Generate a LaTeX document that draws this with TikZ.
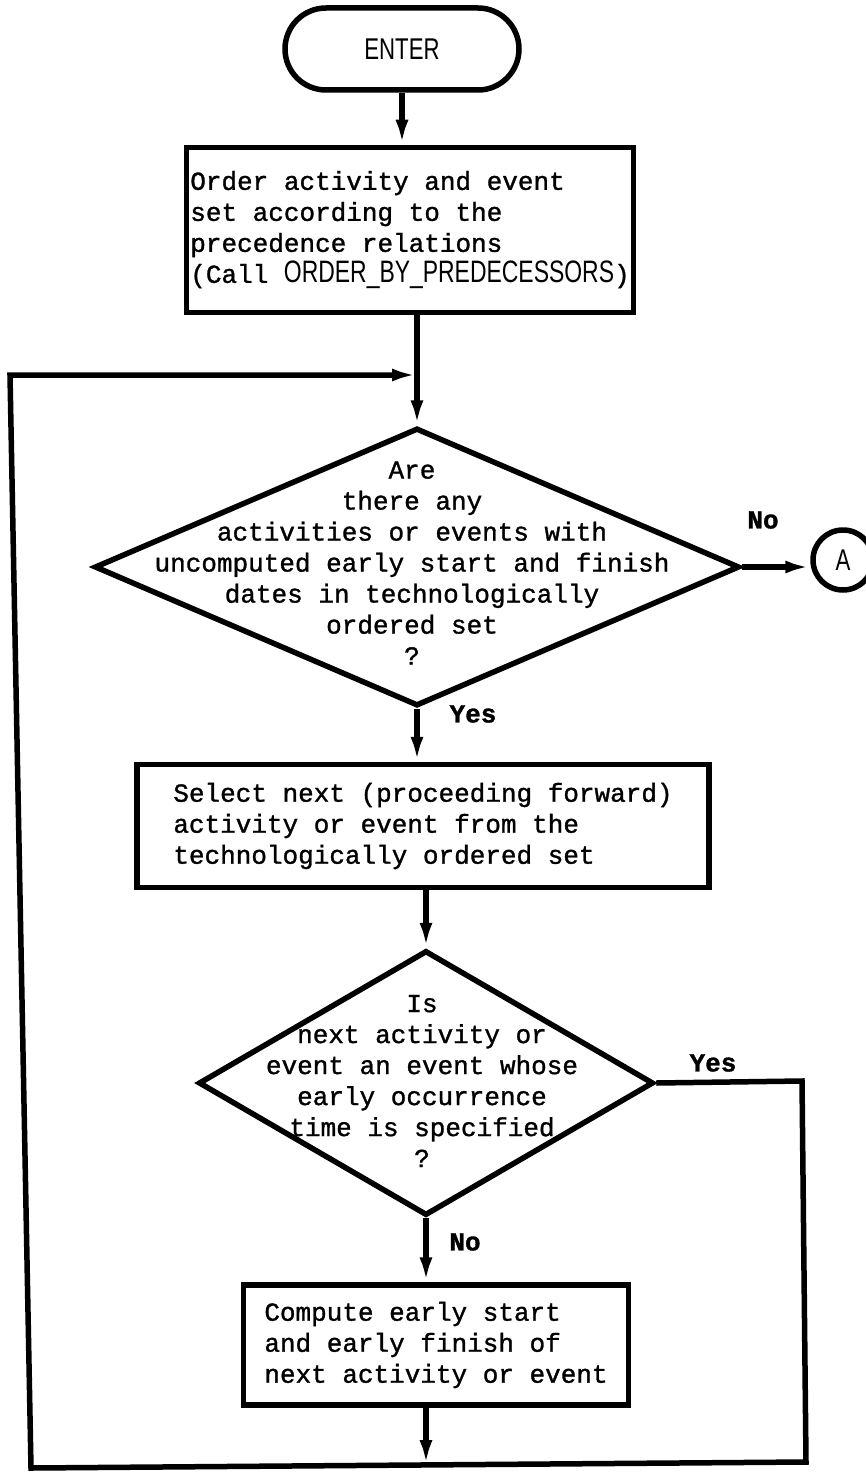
\documentclass[tikz,border=0pt]{standalone}
\usepackage{fontspec}
\usetikzlibrary{shapes.geometric,arrows.meta}
\newfontfamily\cour[FakeBold=1.2]{Liberation Mono}
\newfontfamily\narrowsf[FakeStretch=0.74]{Liberation Sans}
\begin{document}
\begin{tikzpicture}[x=1pt,y=-1pt,
  ln/.style={line width=5.5pt},
  arr/.style={ln,-{Latex[length=25pt,width=13pt]}},
  txt/.style={font=\cour\fontsize{26}{31}\selectfont},
  lbl/.style={font=\cour\bfseries\fontsize{26}{31}\selectfont, inner sep=0pt},
  boxst/.style={draw,ln,rectangle,align=left,txt,inner sep=0pt},
  dia/.style={draw,ln,diamond,inner sep=0pt},
  dtext/.style={txt,align=center,inner sep=0pt},
  term/.style={draw,ln,rectangle,rounded corners=41pt,minimum width=234pt,minimum height=82pt,
               font=\narrowsf\fontsize{30}{30}\selectfont},
  conn/.style={draw,ln,circle,minimum size=60pt,inner sep=0pt,
               font=\narrowsf\fontsize{30}{30}\selectfont}
]
\useasboundingbox (0,0) rectangle (866,1474);
\fill[white] (0,0) rectangle (866,1474);

\node[term] (enter) at (402,49) {ENTER};

\node[boxst, minimum width=447pt, minimum height=165pt] (box1) at (410,230)
  {Order activity and event\\
   set according to the\\
   precedence relations\\
   (Call {\narrowsf\fontsize{31}{31}\selectfont ORDER\_BY\_PREDECESSORS})};

\node[dia, minimum width=645pt, minimum height=278pt] (d1) at (417,567) {};
\node[dtext] (d1t) at (412,563)
  {Are\\there any\\activities or events with\\uncomputed early start and finish\\dates in technologically\\ordered set\\?};

\node[conn] (a) at (843,560) {A};

\node[boxst, minimum width=572pt, minimum height=123pt] (box2) at (423,826)
  {Select next (proceeding forward)\\
   activity or event from the\\
   technologically ordered set};

\node[dia, minimum width=455pt, minimum height=265pt] (d2) at (426,1083) {};
\node[dtext] (d2t) at (422,1081)
  {Is\\next activity or\\event an event whose\\early occurrence\\time is specified\\?};

\node[boxst, minimum width=385pt, minimum height=120pt] (box3) at (436,1345)
  {Compute early start\\
   and early finish of\\
   next activity or event};

% labels
\node[lbl] (no1) at (763,520) {No};
\node[lbl] (yes1) at (473,714) {Yes};
\node[lbl] (yes2) at (713,1063) {Yes};
\node[lbl] (no2) at (465,1242) {No};

% loop coordinates
\coordinate (rt) at (802,1081);
\coordinate (rb) at (806,1462);
\coordinate (lb) at (31,1468);
\coordinate (lt) at (10,375);
\coordinate (m) at (432,1465);

% connectors
\draw[arr] (enter.south) -- (enter.south |- box1.north);
\draw[arr] (d1.north |- box1.south) -- (d1.north);
\draw[arr] (d1.east) -- (a.west |- d1.east);
\draw[arr] (d1.south) -- (d1.south |- box2.north);
\draw[arr] (d2.north |- box2.south) -- (d2.north);
\draw[arr] (d2.south) -- (d2.south |- box3.north);
\draw[arr] (d2.south |- box3.south) -- (d2.south |- m);
\draw[arr, line join=miter] (d2.east) -- (rt) -- (rb) -- (lb) -- (lt) -- (d1.north |- lt);
\end{tikzpicture}
\end{document}
